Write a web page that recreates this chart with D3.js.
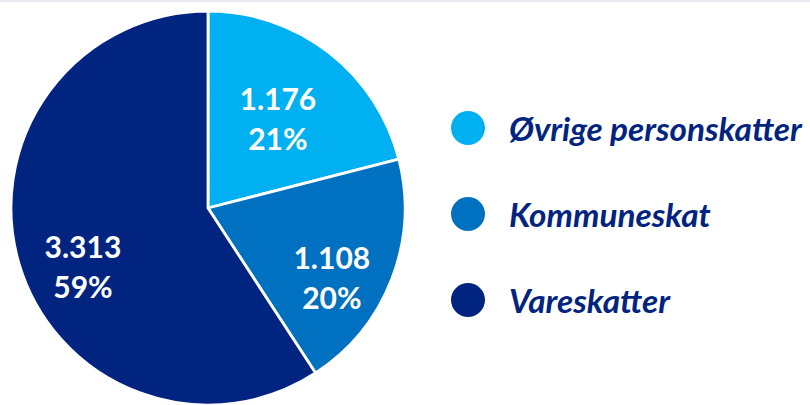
<!DOCTYPE html>
<html>
<head>
<meta charset="utf-8">
<script src="https://cdn.jsdelivr.net/npm/d3@7"></script>
<style>
  html, body { margin: 0; padding: 0; background: #fff; }
  svg { display: block; }
</style>
</head>
<body>
<svg id="chart" width="810" height="405"></svg>
<script>
const categories = ["Øvrige personskatter", "Kommuneskat", "Vareskatter"];
const values = [1176, 1108, 3313];
const valueLabels = ["1.176", "1.108", "3.313"];
const percentLabels = ["21%", "20%", "59%"];
const colors = ["#00B0F0", "#0070C0", "#002480"];

const W = 810, H = 405;
const svg = d3.select("#chart");

// faint top rule
svg.append("rect").attr("x", 0).attr("y", 0).attr("width", W).attr("height", 2).attr("fill", "#E8ECF4");

const cx = 208, cy = 208, R = 197;
const data = categories.map((c, i) => ({ name: c, value: values[i], vl: valueLabels[i], pl: percentLabels[i], color: colors[i] }));

const pie = d3.pie().value(d => d.value).sort(null);
const arcs = pie(data);
const arc = d3.arc().innerRadius(0).outerRadius(R);
const labelArc = d3.arc().innerRadius(R * 0.62).outerRadius(R * 0.62);

const g = svg.append("g").attr("transform", `translate(${cx},${cy})`);
g.selectAll("path").data(arcs).enter().append("path")
  .attr("d", arc)
  .attr("fill", d => d.data.color)
  .attr("stroke", "#fff")
  .attr("stroke-width", 2.8)
  .attr("stroke-linejoin", "round");

const nudges = [[-5, 8], [10, 27], [-8, 25]];
const lab = g.selectAll("g.lab").data(arcs).enter().append("g")
  .attr("class", "lab")
  .attr("transform", (d, i) => {
    const c = labelArc.centroid(d);
    return `translate(${c[0] + nudges[i][0]},${c[1] + nudges[i][1]})`;
  });
const labFont = "Lato, 'Open Sans', sans-serif";
lab.append("text").attr("text-anchor", "middle").attr("y", -10)
  .attr("font-family", labFont).attr("font-weight", 700).attr("font-size", 30)
  .attr("fill", "#fff").text(d => d.data.vl);
lab.append("text").attr("text-anchor", "middle").attr("y", 30)
  .attr("font-family", labFont).attr("font-weight", 700).attr("font-size", 30)
  .attr("fill", "#fff").text(d => d.data.pl);

// legend
const legY = d3.scalePoint().domain(categories).range([128, 300]);
const leg = svg.append("g");
const items = leg.selectAll("g").data(data).enter().append("g")
  .attr("transform", d => `translate(468,${legY(d.name)})`);
items.append("circle").attr("r", 17).attr("fill", d => d.color);
const legTexts = items.append("text").attr("x", 41).attr("y", 13)
  .attr("font-family", labFont).attr("font-weight", 700).attr("font-style", "italic")
  .attr("font-size", 26).attr("fill", "#002480").text(d => d.name);

// fit legend size so longest entry spans ~293px
const longest = legTexts.nodes()[0];
const w = longest.getComputedTextLength();
const fs = 26 * 293 / w;
legTexts.attr("font-size", fs);
</script>
</body>
</html>
